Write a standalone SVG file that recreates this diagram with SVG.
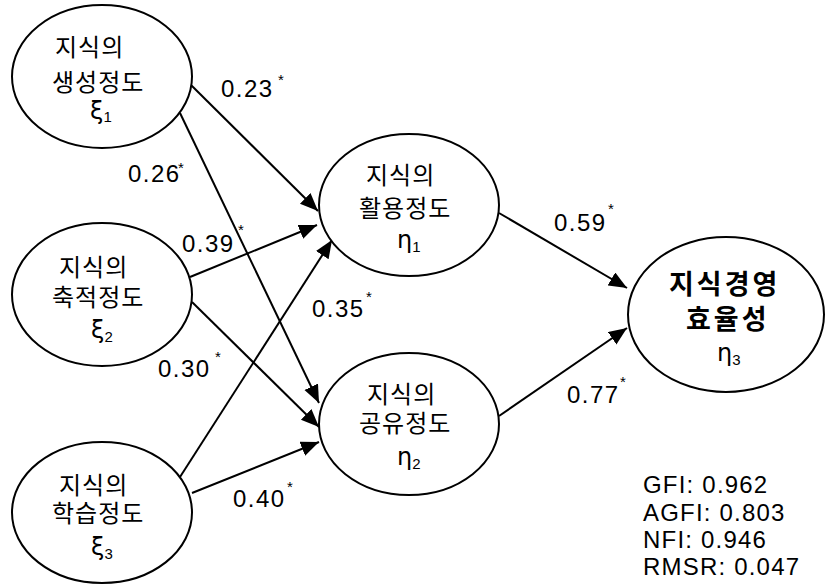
<svg xmlns="http://www.w3.org/2000/svg" width="825" height="588" viewBox="0 0 825 588">
  <style>
    .node ellipse { fill: #ffffff; stroke: #000000; stroke-width: 2; }
    .ko { font-family: "Noto Sans CJK KR", "Noto Sans", sans-serif; font-size: 24px; letter-spacing: 1px; fill: #000000; }
    .ko-bold { font-family: "Noto Sans CJK KR", "Noto Sans", sans-serif; font-size: 27px; font-weight: bold; letter-spacing: 3px; fill: #000000; }
    .sym { font-family: "DejaVu Sans", "Liberation Sans", sans-serif; font-size: 24px; fill: #000000; }
    .sub { font-family: "Liberation Sans", Arial, sans-serif; font-size: 15px; fill: #000000; }
    .coef { font-family: "Liberation Sans", Arial, sans-serif; font-size: 24px; letter-spacing: 1.5px; fill: #000000; }
    .star { font-family: "Liberation Sans", Arial, sans-serif; font-size: 15px; fill: #000000; }
    .fit { font-family: "Liberation Sans", Arial, sans-serif; font-size: 24px; letter-spacing: 1.2px; fill: #000000; }
    .edge { stroke: #000000; stroke-width: 2; fill: none; marker-end: url(#arrow); }
  </style>
  <defs>
    <marker id="arrow" markerUnits="userSpaceOnUse" markerWidth="20" markerHeight="16" refX="18" refY="7.5" orient="auto">
      <path d="M0,0 L18,7.5 L0,15 z" fill="#000000"/>
    </marker>
  </defs>

  <rect x="0" y="0" width="825" height="588" fill="#ffffff"/>

  <!-- path connectors -->
  <g id="connectors">
    <line class="edge" x1="191" y1="85" x2="318" y2="211"/>
    <line class="edge" x1="180" y1="113" x2="319" y2="403"/>
    <line class="edge" x1="190" y1="277" x2="317" y2="225"/>
    <line class="edge" x1="192" y1="302" x2="319" y2="427"/>
    <line class="edge" x1="180" y1="477" x2="332" y2="240"/>
    <line class="edge" x1="192" y1="493" x2="319" y2="442"/>
    <line class="edge" x1="499" y1="213" x2="627" y2="288"/>
    <line class="edge" x1="499" y1="416" x2="627" y2="328"/>
  </g>

  <!-- exogenous latent variables -->
  <g id="xi1" class="node">
    <ellipse cx="102" cy="76.5" rx="90" ry="71.5"/>
    <text class="ko" x="55" y="56">지식의</text>
    <text class="ko" x="52" y="91">생성정도</text>
    <text class="sym" x="90" y="119">ξ<tspan class="sub" dy="3">1</tspan></text>
  </g>
  <g id="xi2" class="node">
    <ellipse cx="102" cy="294.5" rx="90" ry="71.5"/>
    <text class="ko" x="59" y="276">지식의</text>
    <text class="ko" x="52" y="306">축적정도</text>
    <text class="sym" x="91" y="338">ξ<tspan class="sub" dy="4">2</tspan></text>
  </g>
  <g id="xi3" class="node">
    <ellipse cx="102" cy="512.5" rx="90" ry="70.5"/>
    <text class="ko" x="59" y="494">지식의</text>
    <text class="ko" x="52" y="522">학습정도</text>
    <text class="sym" x="91" y="555">ξ<tspan class="sub" dy="4">3</tspan></text>
  </g>

  <!-- endogenous latent variables -->
  <g id="eta1" class="node">
    <ellipse cx="409" cy="205" rx="90" ry="71"/>
    <text class="ko" x="366" y="184">지식의</text>
    <text class="ko" x="359" y="217">활용정도</text>
    <text class="sym" x="397" y="248">η<tspan class="sub" dy="4">1</tspan></text>
  </g>
  <g id="eta2" class="node">
    <ellipse cx="409" cy="424" rx="90" ry="71"/>
    <text class="ko" x="367" y="403">지식의</text>
    <text class="ko" x="359" y="432">공유정도</text>
    <text class="sym" x="397" y="465">η<tspan class="sub" dy="4">2</tspan></text>
  </g>
  <g id="eta3" class="node">
    <ellipse cx="726" cy="314.5" rx="98" ry="77.5"/>
    <text class="ko-bold" x="669" y="294">지식경영</text>
    <text class="ko-bold" x="686" y="329">효율성</text>
    <text class="sym" x="717" y="361">η<tspan class="sub" dy="4">3</tspan></text>
  </g>

  <!-- path coefficients -->
  <g id="coefficients">
    <text class="coef" x="221" y="97">0.23</text><text class="star" x="278" y="85">*</text>
    <text class="coef" x="128" y="182">0.26</text><text class="star" x="178" y="173">*</text>
    <text class="coef" x="182" y="252">0.39</text><text class="star" x="238" y="235">*</text>
    <text class="coef" x="158" y="377">0.30</text><text class="star" x="215" y="362">*</text>
    <text class="coef" x="233" y="507">0.40</text><text class="star" x="287" y="492">*</text>
    <text class="coef" x="312" y="317">0.35</text><text class="star" x="366" y="302">*</text>
    <text class="coef" x="554" y="231">0.59</text><text class="star" x="608" y="214">*</text>
    <text class="coef" x="567" y="403">0.77</text><text class="star" x="620" y="387">*</text>
  </g>

  <!-- model fit indices -->
  <g id="fit-indices">
    <text class="fit" x="643" y="493">GFI: 0.962</text>
    <text class="fit" x="643" y="521">AGFI: 0.803</text>
    <text class="fit" x="643" y="548">NFI: 0.946</text>
    <text class="fit" x="643" y="575">RMSR: 0.047</text>
  </g>
</svg>
